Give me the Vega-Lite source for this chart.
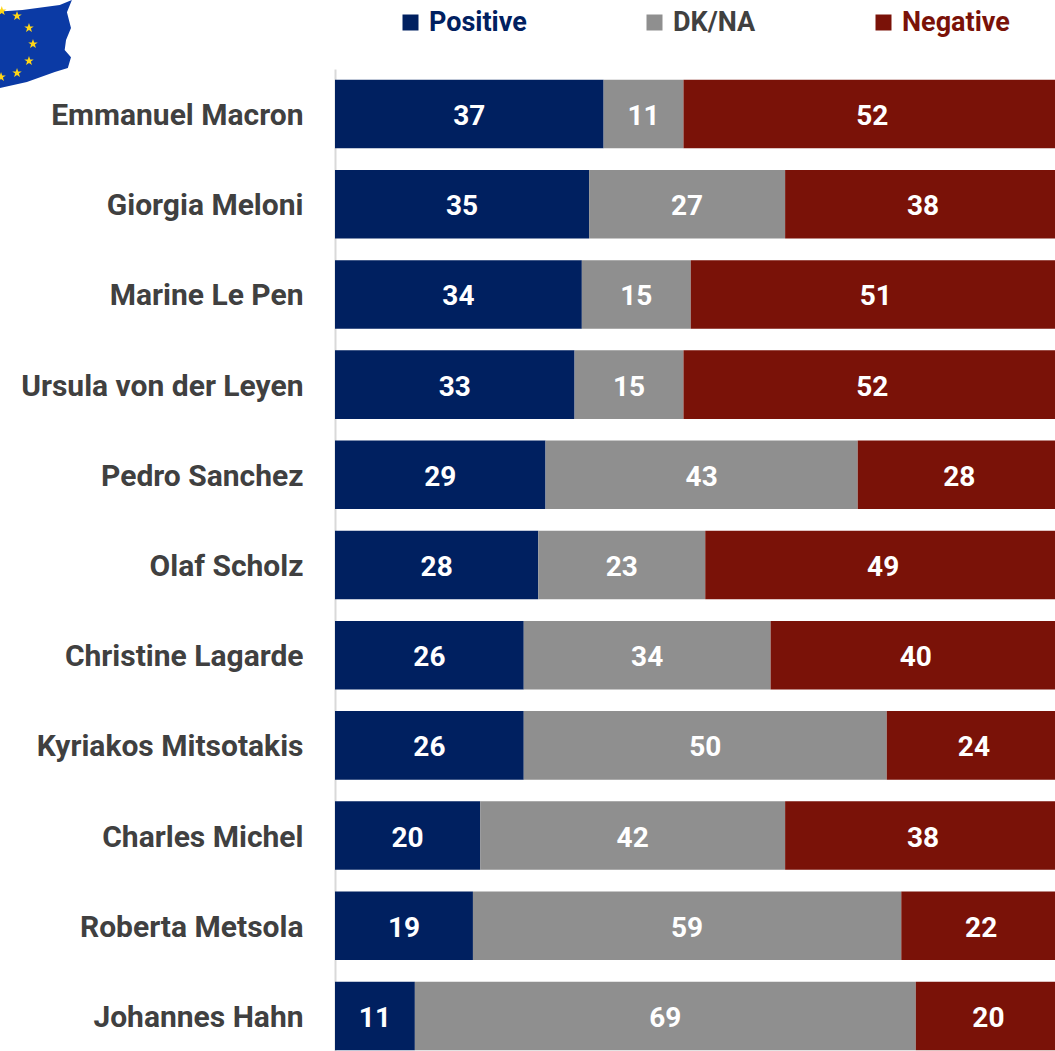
{"$schema":"https://vega.github.io/schema/vega-lite/v6.json","width":720,"height":1051,"padding":{"left":335,"top":0,"right":0,"bottom":0},"autosize":{"type":"none"},"background":"white","view":{"stroke":null},
"datasets":{"rows":[
{"name":"Emmanuel Macron","cat":"Positive","order":1,"v":37},{"name":"Emmanuel Macron","cat":"DK/NA","order":2,"v":11},{"name":"Emmanuel Macron","cat":"Negative","order":3,"v":52},
{"name":"Giorgia Meloni","cat":"Positive","order":1,"v":35},{"name":"Giorgia Meloni","cat":"DK/NA","order":2,"v":27},{"name":"Giorgia Meloni","cat":"Negative","order":3,"v":38},
{"name":"Marine Le Pen","cat":"Positive","order":1,"v":34},{"name":"Marine Le Pen","cat":"DK/NA","order":2,"v":15},{"name":"Marine Le Pen","cat":"Negative","order":3,"v":51},
{"name":"Ursula von der Leyen","cat":"Positive","order":1,"v":33},{"name":"Ursula von der Leyen","cat":"DK/NA","order":2,"v":15},{"name":"Ursula von der Leyen","cat":"Negative","order":3,"v":52},
{"name":"Pedro Sanchez","cat":"Positive","order":1,"v":29},{"name":"Pedro Sanchez","cat":"DK/NA","order":2,"v":43},{"name":"Pedro Sanchez","cat":"Negative","order":3,"v":28},
{"name":"Olaf Scholz","cat":"Positive","order":1,"v":28},{"name":"Olaf Scholz","cat":"DK/NA","order":2,"v":23},{"name":"Olaf Scholz","cat":"Negative","order":3,"v":49},
{"name":"Christine Lagarde","cat":"Positive","order":1,"v":26},{"name":"Christine Lagarde","cat":"DK/NA","order":2,"v":34},{"name":"Christine Lagarde","cat":"Negative","order":3,"v":40},
{"name":"Kyriakos Mitsotakis","cat":"Positive","order":1,"v":26},{"name":"Kyriakos Mitsotakis","cat":"DK/NA","order":2,"v":50},{"name":"Kyriakos Mitsotakis","cat":"Negative","order":3,"v":24},
{"name":"Charles Michel","cat":"Positive","order":1,"v":20},{"name":"Charles Michel","cat":"DK/NA","order":2,"v":42},{"name":"Charles Michel","cat":"Negative","order":3,"v":38},
{"name":"Roberta Metsola","cat":"Positive","order":1,"v":19},{"name":"Roberta Metsola","cat":"DK/NA","order":2,"v":59},{"name":"Roberta Metsola","cat":"Negative","order":3,"v":22},
{"name":"Johannes Hahn","cat":"Positive","order":1,"v":11},{"name":"Johannes Hahn","cat":"DK/NA","order":2,"v":69},{"name":"Johannes Hahn","cat":"Negative","order":3,"v":20}
],
"flag":[{"part":"cloth","fx":-41.2,"fy":4.5}],
"stars":[{"fx":-43.8,"fy":1.6},{"fx":-42.15,"fy":2.8},{"fx":-41.6,"fy":4.4},{"fx":-42.15,"fy":6.1},{"fx":-43.8,"fy":7.3},{"fx":-46.0,"fy":7.7},{"fx":-45.9,"fy":1.1}]},
"layer":[
{"data":{"name":"rows"},
"transform":[{"stack":"v","groupby":["name"],"sort":[{"field":"order","order":"ascending"}],"as":["v0","v1"]}],
"mark":{"type":"bar"},"encoding":{"y":{"field":"name","type":"nominal","sort":null,"title":null,"scale":{"domain":["Emmanuel Macron","Giorgia Meloni","Marine Le Pen","Ursula von der Leyen","Pedro Sanchez","Olaf Scholz","Christine Lagarde","Kyriakos Mitsotakis","Charles Michel","Roberta Metsola","Johannes Hahn"],"range":[69,1061],"paddingInner":0.24,"paddingOuter":0.12},"axis":{"domain":true,"domainColor":"#d9d9d9","domainWidth":2,"ticks":false,"labelFont":"Roboto","labelFontSize":30,"labelFontWeight":"bold","labelColor":"#404040","labelPadding":32,"labelLimit":330,"labelOffset":2}},
"x":{"field":"v0","type":"quantitative","scale":{"domain":[0,100],"range":[0,726],"nice":false},"axis":null},"x2":{"field":"v1"},"color":{"field":"cat","type":"nominal","sort":null,"scale":{"domain":["Positive","DK/NA","Negative"],"range":["#002060","#8f8f8f","#7a1208"]},"legend":{"title":null,"orient":"none","legendX":62,"legendY":9,"direction":"horizontal","columns":3,"gridAlign":"none","columnPadding":114,"symbolType":"square","symbolSize":256,"symbolStrokeWidth":0,"labelFont":"Roboto","labelFontSize":27,"labelFontWeight":"bold","labelOffset":5,"labelLimit":200,"labelColor":{"expr":"datum.value==='Positive'?'#002060':datum.value==='DK/NA'?'#404040':'#7a1208'"}}}}},
{"data":{"name":"rows"},
"transform":[{"stack":"v","groupby":["name"],"sort":[{"field":"order","order":"ascending"}],"as":["v0","v1"]},{"calculate":"(datum.v0+datum.v1)/2","as":"mid"}],
"mark":{"type":"text","font":"Roboto","fontSize":28,"fontWeight":"bold","color":"white","dy":3},"encoding":{"y":{"field":"name","type":"nominal","sort":null,"title":null,"axis":null,"scale":{"domain":["Emmanuel Macron","Giorgia Meloni","Marine Le Pen","Ursula von der Leyen","Pedro Sanchez","Olaf Scholz","Christine Lagarde","Kyriakos Mitsotakis","Charles Michel","Roberta Metsola","Johannes Hahn"],"range":[69,1061],"paddingInner":0.24,"paddingOuter":0.12}},"x":{"field":"mid","type":"quantitative"},"text":{"field":"v","type":"quantitative"}}},
{"data":{"name":"flag"},
"mark":{"type":"point","filled":true,"opacity":1,"color":"#0b3aa5","size":8100,"clip":false,"shape":"M-1 -0.73 L-0.3 -0.78 L0.53 -0.89 L0.8 -1 L0.69 -0.73 L0.78 -0.38 L0.67 -0.11 L0.64 0.11 L0.78 0.27 L0.71 0.51 L0.42 0.6 L-0.2 0.82 L-1 1 Z"},
"encoding":{"x":{"field":"fx","type":"quantitative"},"y":{"field":"fy","type":"quantitative","scale":{"domain":[0,10],"range":[0,100]},"axis":null}}},
{"data":{"name":"stars"},
"mark":{"type":"point","filled":true,"opacity":1,"color":"#ffd617","size":100,"clip":false,"shape":"M0 -1 L0.24 -0.31 L0.95 -0.31 L0.38 0.12 L0.59 0.81 L0 0.4 L-0.59 0.81 L-0.38 0.12 L-0.95 -0.31 L-0.24 -0.31 Z"},
"encoding":{"x":{"field":"fx","type":"quantitative"},"y":{"field":"fy","type":"quantitative","scale":{"domain":[0,10],"range":[0,100]},"axis":null}}}
],
"resolve":{"scale":{"y":"independent"}}}
